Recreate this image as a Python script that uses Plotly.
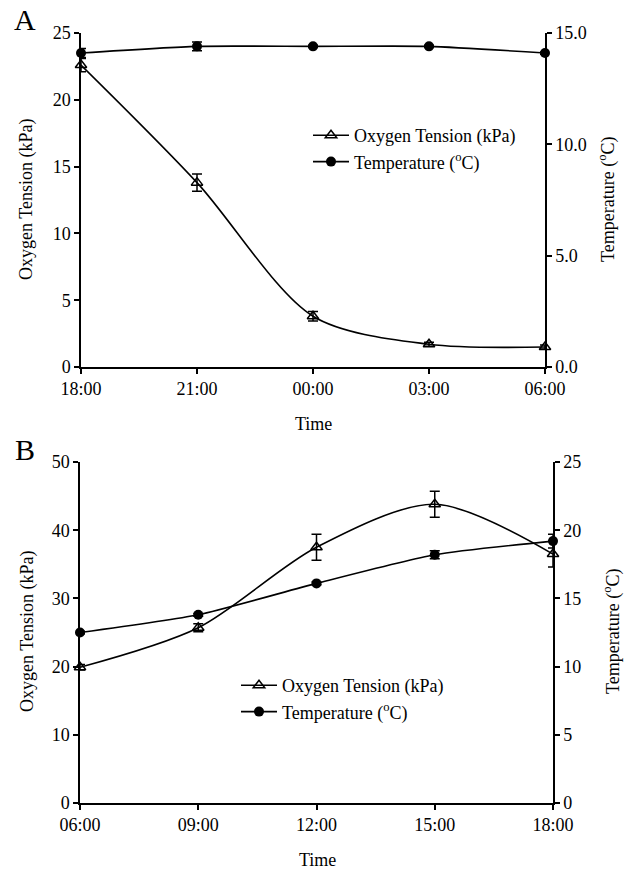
import plotly.graph_objects as go

# ---- data ----
time_a = ["18:00", "21:00", "00:00", "03:00", "06:00"]
oxy_a = [22.6, 13.8, 3.8, 1.7, 1.5]
oxy_a_err = [0.5, 0.65, 0.35, 0.15, 0.15]
temp_a = [14.1, 14.4, 14.4, 14.4, 14.1]
temp_a_err = [0.2, 0.2, 0.05, 0.05, 0.05]

time_b = ["06:00", "09:00", "12:00", "15:00", "18:00"]
oxy_b = [19.9, 25.7, 37.5, 43.8, 36.5]
oxy_b_err = [0.4, 0.6, 1.9, 1.9, 1.9]
temp_b = [12.5, 13.8, 16.1, 18.2, 19.2]
temp_b_err = [0.1, 0.1, 0.1, 0.3, 0.5]

FONT = "Liberation Serif, Times New Roman, serif"
W, H = 624, 871

def px(x):
    return x / W

def py(y):
    return 1 - y / H

fig = go.Figure()

oxy_name = "Oxygen Tension (kPa)"
temp_name = "Temperature (<sup>o</sup>C)"

def add_pair(xs, oxy, oxy_err, temp, temp_err, xa, ya_l, ya_r, legend):
    fig.add_trace(go.Scatter(
        x=xs, y=oxy, name=oxy_name, mode="lines+markers",
        line=dict(color="black", width=1.6, shape="spline", smoothing=0.85),
        marker=dict(symbol="triangle-up-open", size=10, color="black", line=dict(width=1.5)),
        error_y=dict(type="data", array=oxy_err, color="black", thickness=1.5, width=5),
        xaxis=xa, yaxis=ya_l, legend=legend, cliponaxis=False))
    fig.add_trace(go.Scatter(
        x=xs, y=temp, name=temp_name, mode="lines+markers",
        line=dict(color="black", width=1.6, shape="spline", smoothing=0.6),
        marker=dict(symbol="circle", size=10, color="black"),
        error_y=dict(type="data", array=temp_err, color="black", thickness=1.5, width=5),
        xaxis=xa, yaxis=ya_r, legend=legend, cliponaxis=False))

add_pair(time_a, oxy_a, oxy_a_err, temp_a, temp_a_err, "x", "y", "y2", "legend")
add_pair(time_b, oxy_b, oxy_b_err, temp_b, temp_b_err, "x2", "y3", "y4", "legend2")

axis_common = dict(showline=True, linecolor="black", linewidth=1.5, ticks="outside",
                   ticklen=5, tickwidth=1.5, tickcolor="black", showgrid=False,
                   zeroline=False, automargin=False,
                   tickfont=dict(family=FONT, size=18, color="black"))

dom_a_x = [px(81), px(545)]
dom_b_x = [px(80), px(553)]
dom_a_y = [py(367), py(33)]
dom_b_y = [py(803), py(462)]

fig.update_layout(
    width=W, height=H, margin=dict(l=0, r=0, t=0, b=0, pad=0, autoexpand=False),
    paper_bgcolor="white", plot_bgcolor="white",
    font=dict(family=FONT, size=18, color="black"),
    xaxis=dict(domain=dom_a_x, anchor="y", type="category", range=[0, 4], **axis_common),
    yaxis=dict(domain=dom_a_y, anchor="x", range=[0, 25], dtick=5, **axis_common),
    yaxis2=dict(overlaying="y", anchor="x", side="right", range=[0, 15], dtick=5,
                tickformat=".1f", **axis_common),
    xaxis2=dict(domain=dom_b_x, anchor="y3", type="category", range=[0, 4], **axis_common),
    yaxis3=dict(domain=dom_b_y, anchor="x2", range=[0, 50], dtick=10, **axis_common),
    yaxis4=dict(overlaying="y3", anchor="x2", side="right", range=[0, 25], dtick=5,
                **axis_common),
    legend=dict(x=px(308), y=py(117), xanchor="left", yanchor="top", itemwidth=36,
                bgcolor="rgba(0,0,0,0)", font=dict(family=FONT, size=18)),
    legend2=dict(x=px(236), y=py(667), xanchor="left", yanchor="top", itemwidth=36,
                 bgcolor="rgba(0,0,0,0)", font=dict(family=FONT, size=18)),
)

def ann(text, x, y, size=18, angle=0):
    fig.add_annotation(text=text, x=px(x), y=py(y), xref="paper", yref="paper",
                       showarrow=False, textangle=angle, xanchor="center", yanchor="middle",
                       font=dict(family=FONT, size=size, color="black"))

ann("A", 25, 19, size=30)
ann("B", 25, 449, size=30)
ann("Oxygen Tension (kPa)", 27, 200, angle=-90)
ann("Temperature (<sup>o</sup>C)", 607, 200, angle=-90)
ann("Time", 313, 424)
ann("Oxygen Tension (kPa)", 27, 632, angle=-90)
ann("Temperature (<sup>o</sup>C)", 612, 632, angle=-90)
ann("Time", 317, 860)

fig.write_html("out.html")
